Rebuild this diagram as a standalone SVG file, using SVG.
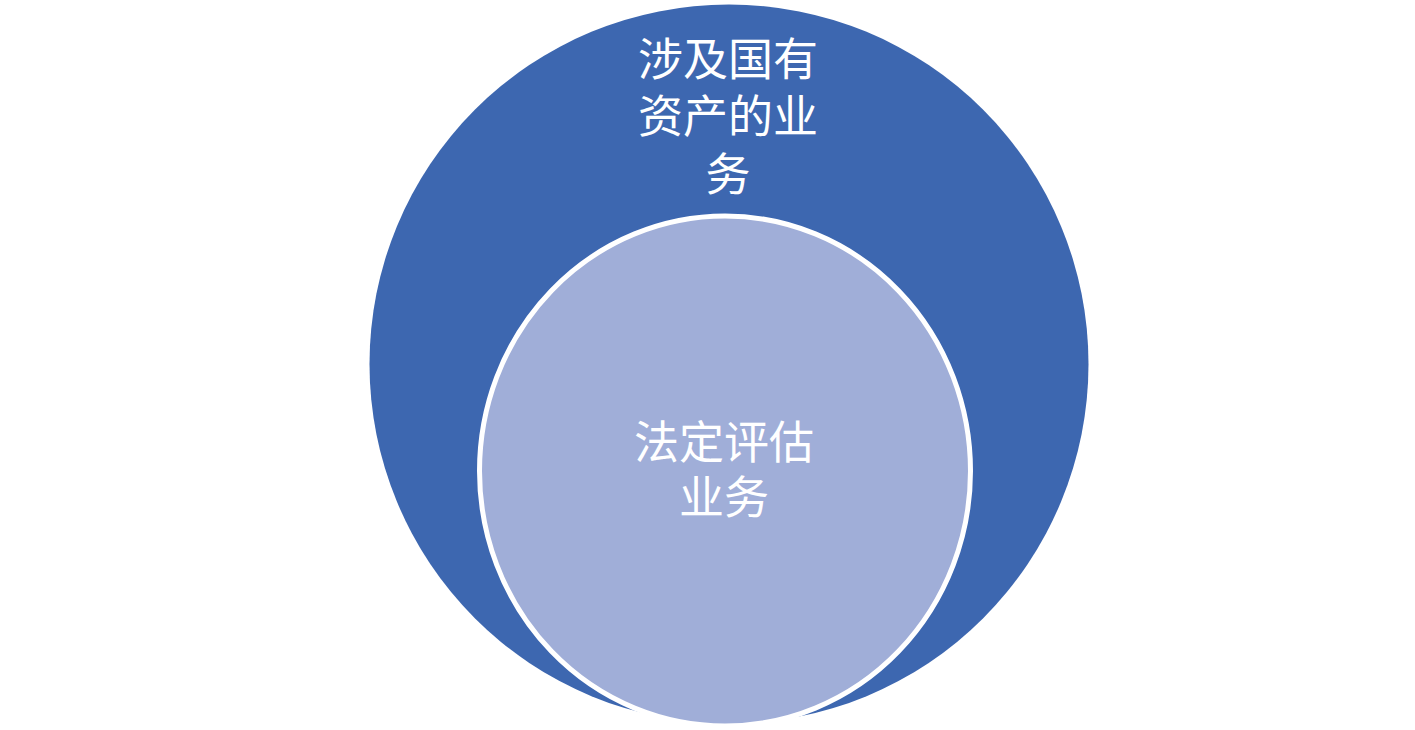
<svg xmlns="http://www.w3.org/2000/svg" width="1415" height="730" viewBox="0 0 1415 730">
<style>
.t{font-family:"Noto Sans CJK SC","Noto Sans",sans-serif;font-size:45px;fill:#ffffff;text-anchor:middle}
</style>
<rect width="1415" height="730" fill="#ffffff"/>
<g id="outer">
<circle cx="729" cy="364" r="359.5" fill="#3D67B0"/>
<text class="t" x="728" y="76">涉及国有</text>
<text class="t" x="728" y="133">资产的业</text>
<text class="t" x="728" y="191">务</text>
</g>
<g id="inner">
<ellipse cx="725" cy="471" rx="245.5" ry="255" fill="#A0AED8" stroke="#ffffff" stroke-width="5"/>
<text class="t" x="724" y="459">法定评估</text>
<text class="t" x="724" y="514">业务</text>
</g>
<g id="connectors"/>
</svg>
